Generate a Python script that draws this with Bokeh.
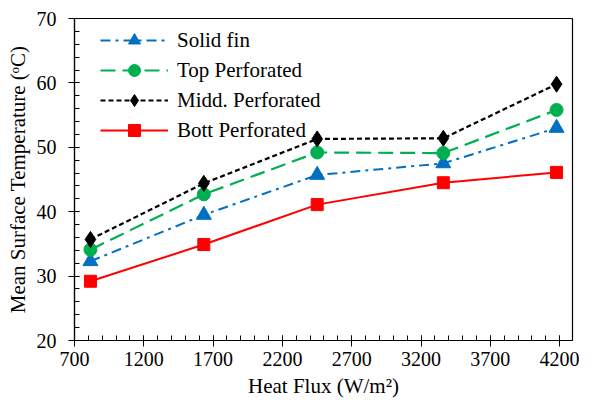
from bokeh.plotting import figure
from bokeh.models import Range1d, Legend, LegendItem, FixedTicker
from bokeh.embed import file_html
from bokeh.resources import INLINE

heat_flux = [815, 1633, 2451, 3361, 4178]
solid_fin = [32.3, 39.5, 45.7, 47.5, 53.0]
top_perf = [34.1, 42.7, 49.2, 49.1, 55.8]
midd_perf = [35.7, 44.4, 51.3, 51.4, 59.8]
bott_perf = [29.2, 34.9, 41.1, 44.5, 46.1]

x_ticks = [700, 1200, 1700, 2200, 2700, 3200, 3700, 4200]
y_ticks = [20, 30, 40, 50, 60, 70]

FONT = "Liberation Serif"

p = figure(width=587, height=403, output_backend="svg", toolbar_location=None,
           x_range=Range1d(700, 4293), y_range=Range1d(20, 70),
           min_border_left=74, min_border_right=15, min_border_top=18, min_border_bottom=63)

p.xgrid.visible = False
p.ygrid.visible = False
p.outline_line_color = "black"
p.outline_line_width = 1.2

p.xaxis.ticker = FixedTicker(ticks=x_ticks, minor_ticks=list(range(700, 4300, 100)))
p.yaxis.ticker = FixedTicker(ticks=y_ticks, minor_ticks=list(range(20, 71, 2)))

for ax in (p.xaxis[0], p.yaxis[0]):
    ax.axis_line_color = "black"
    ax.axis_line_width = 1.2
    ax.major_tick_line_color = "black"
    ax.minor_tick_line_color = "black"
    ax.major_tick_in = 5
    ax.major_tick_out = 6
    ax.minor_tick_in = 5
    ax.minor_tick_out = 0
    ax.major_label_text_font = FONT
    ax.major_label_text_font_size = "20px"
    ax.major_label_text_color = "black"
    ax.axis_label_text_font = FONT
    ax.axis_label_text_font_size = "21px"
    ax.axis_label_text_font_style = "normal"
    ax.axis_label_text_color = "black"

p.xaxis.axis_label = "Heat Flux (W/m\u00b2)"
p.yaxis.axis_label = "Mean Surface Temperature (\u1d52C)"
p.xaxis.major_label_standoff = 5
p.yaxis.major_label_standoff = 12
p.xaxis.axis_label_standoff = 5
p.yaxis.axis_label_standoff = 4

blue = "#0070C0"
green = "#00B050"
red = "#FF0000"

l1 = p.line(heat_flux, solid_fin, line_color=blue, line_width=2, line_dash="10 5 3 5")
m1 = p.scatter(heat_flux, solid_fin, marker="triangle", size=15, fill_color=blue, line_color=blue)
l2 = p.line(heat_flux, top_perf, line_color=green, line_width=2.2, line_dash="15 7")
m2 = p.scatter(heat_flux, top_perf, marker="circle", size=13, fill_color=green, line_color=green)
l3 = p.line(heat_flux, midd_perf, line_color="black", line_width=2.2, line_dash="5 3")
m3 = p.scatter(heat_flux, midd_perf, marker="diamond", size=16, fill_color="black", line_color="black")
l4 = p.line(heat_flux, bott_perf, line_color=red, line_width=2)
m4 = p.scatter(heat_flux, bott_perf, marker="square", size=12, fill_color=red, line_color=red)

legend = Legend(items=[
    LegendItem(label="Solid fin", renderers=[l1, m1]),
    LegendItem(label="Top Perforated", renderers=[l2, m2]),
    LegendItem(label="Midd. Perforated", renderers=[l3, m3]),
    LegendItem(label="Bott Perforated", renderers=[l4, m4]),
], location=(26, 195))
legend.border_line_color = None
legend.background_fill_alpha = 0
legend.padding = 0
legend.margin = 0
legend.spacing = 0
legend.glyph_width = 68
legend.glyph_height = 30
legend.label_height = 30
legend.label_standoff = 9
legend.label_text_font = FONT
legend.label_text_font_size = "21px"
legend.label_text_color = "black"
p.add_layout(legend, "center")

open("out.html", "w").write(file_html(p, INLINE))
